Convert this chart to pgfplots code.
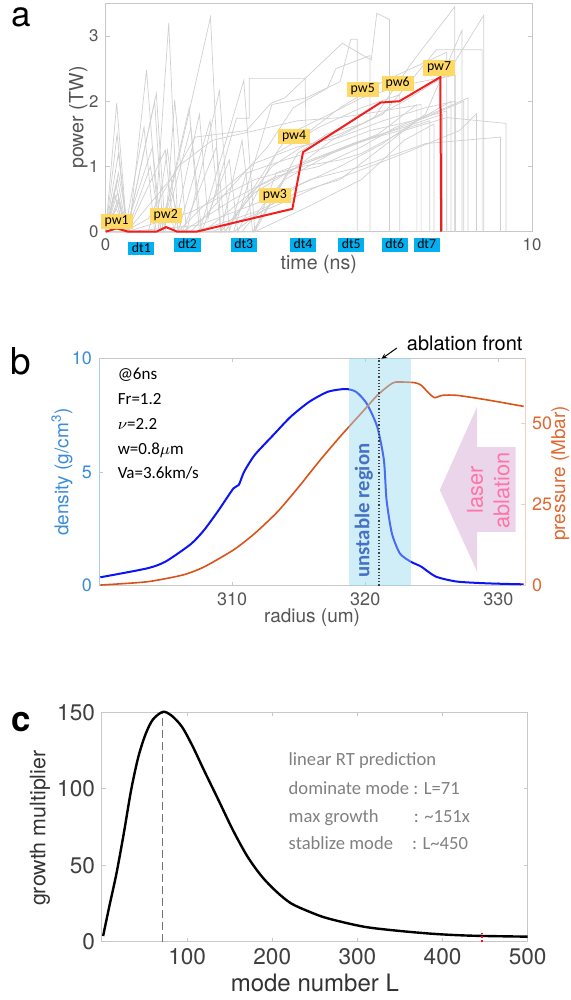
\documentclass[border=0pt]{standalone}
\usepackage{pgfplots}
\pgfplotsset{compat=1.18}
\usepackage{fontspec}
\setmainfont{TeX Gyre Heros}
\newfontfamily\calib{Carlito}
\usetikzlibrary{arrows.meta}

\definecolor{axgray}{RGB}{200,200,200}
\definecolor{tickgray}{RGB}{85,85,85}
\definecolor{spag}{RGB}{208,208,208}
\definecolor{redline}{RGB}{242,30,30}
\definecolor{pwyellow}{RGB}{255,217,102}
\definecolor{dtcyan}{RGB}{0,176,240}
\definecolor{dblue}{RGB}{58,140,215}
\definecolor{lblue}{RGB}{170,205,235}
\definecolor{dorange}{RGB}{224,104,50}
\definecolor{lorange}{RGB}{245,205,185}
\definecolor{rhoblue}{RGB}{10,20,245}
\definecolor{presorange}{RGB}{217,83,25}
\definecolor{bandc}{RGB}{151,217,239}
\definecolor{ublue}{RGB}{68,114,196}
\definecolor{pinkarrow}{RGB}{235,213,234}
\definecolor{pinktext}{RGB}{255,117,168}
\definecolor{annogray}{RGB}{128,128,128}

\pgfplotsset{
  every axis/.append style={scale only axis, anchor=south west, clip=false,
    /pgf/number format/assume math mode=true,
    tick align=inside, major tick length=2pt,
    axis line style={draw=axgray, line width=0.5pt},
    tick style={draw=axgray, line width=0.4pt}},
  spg/.style={spag, line width=0.35pt, forget plot, mark=none},
}
\tikzset{
  pw/.style={fill=pwyellow, inner xsep=2pt, inner ysep=0.9pt, text height=4.4pt, text depth=1.4pt, font=\calib\fontsize{6.9}{7}\selectfont},
  dt/.style={fill=dtcyan, inner xsep=1.8pt, inner ysep=0.9pt, text height=4.6pt, text depth=0.4pt, font=\calib\fontsize{6.9}{7}\selectfont},
}

\begin{document}
\begin{tikzpicture}
\useasboundingbox (0,0) rectangle (285.5pt,500pt);

% ---------------- panel a ----------------
\node at (10.5pt,491.25pt) {\fontsize{17.5}{20}\selectfont a};
\begin{axis}[at={(52.8pt,384.15pt)}, width=213.2pt, height=114.15pt,
  xmin=0, xmax=10, ymin=0, ymax=3.5, xtick={0,10}, ytick={0,1,2,3},
  xtick pos=bottom, ytick pos=both,
  tick label style={text=tickgray, font=\fontsize{8.4}{10}\selectfont},
  xlabel={time (ns)}, ylabel={power (TW)},
  label style={text=tickgray, font=\fontsize{9.8}{11}\selectfont},
  xlabel style={at={(axis description cs:0.5,-0.1415)}, anchor=center},
  ylabel style={at={(axis description cs:-0.064,0.5)}, anchor=center},
]
\addplot[spg] coordinates {(0,0) (0.26,1.97) (0.5,0) (1.0,0) (1.2,0.5) (1.48,3.2) (1.7,0) (2.3,0.4) (3.5,1.05) (4.5,1.3) (5.5,1.45) (6.5,1.7) (7.5,1.9) (8.2,2.0) (8.2,0)};
\addplot[spg] coordinates {(0,0) (0.3,0.9) (0.55,0) (0.96,2.48) (1.25,0) (1.6,0.8) (2.46,3.29) (2.7,0) (3.5,0.6) (4.5,1.0) (5.5,1.25) (6.5,1.5) (7.5,1.75) (8.4,2.0) (8.4,0)};
\addplot[spg] coordinates {(0,0) (0.25,0.7) (0.5,0) (1.19,2.12) (1.4,0) (1.62,2.02) (1.9,0) (2.67,2.16) (2.9,0) (3.3,0.9) (4.2,1.1) (5.2,1.3) (6.2,1.55) (7.2,1.7) (8.0,1.85) (8.0,0)};
\addplot[spg] coordinates {(0,0) (0.2,0.6) (0.45,0) (1.1,1.3) (1.3,0) (1.96,1.9) (2.2,0) (3.24,2.32) (3.5,0) (4.0,0.9) (5.0,1.15) (6.0,1.4) (7.0,1.6) (7.9,1.8) (7.9,0)};
\addplot[spg] coordinates {(0,0) (0.3,0.5) (0.5,0) (1.4,1.25) (1.6,0) (2.2,1.8) (2.4,0.2) (3.07,1.74) (3.37,1.74) (3.37,2.35) (4.68,2.35) (4.7,1.5) (5.5,1.9) (6.5,2.3) (7.5,2.6) (8.0,2.75) (8.0,0)};
\addplot[spg] coordinates {(0,0) (0.28,0.8) (0.5,0) (1.6,0.87) (2.1,1.45) (3.3,1.55) (3.88,1.97) (4.2,2.05) (5.55,2.89) (6.23,2.63) (6.36,3.35) (6.66,3.25) (6.66,0)};
\addplot[spg] coordinates {(0,0) (0.3,0.45) (0.5,0) (2.0,0.3) (3.5,0.8) (4.6,1.0) (5.5,1.1) (6.0,1.2) (7.0,1.55) (8.0,1.75) (9.39,1.66) (9.39,0)};
\addplot[spg] coordinates {(0,0) (0.25,0.35) (0.5,0) (2.2,0.1) (3.8,0.5) (4.8,0.8) (6.0,1.0) (7.5,1.35) (9.26,1.45) (9.26,0)};
\addplot[spg] coordinates {(0,0) (2.5,0) (4.0,0.4) (5.0,0.7) (6.0,0.95) (7.0,1.2) (8.3,1.55) (8.7,1.81) (8.7,0)};
\addplot[spg] coordinates {(0,0) (3.0,0) (4.5,0.7) (5.5,1.0) (6.5,1.35) (7.5,1.8) (8.36,3.09) (8.36,0)};
\addplot[spg] coordinates {(0,0) (3.2,0) (4.3,0.9) (5.3,1.4) (6.3,1.75) (7.17,2.58) (8.19,3.45) (8.19,0)};
\addplot[spg] coordinates {(0,0) (2.8,0) (3.9,1.0) (4.6,1.3) (5.5,1.5) (6.5,1.8) (7.76,2.79) (8.83,2.79) (8.83,0)};
\addplot[spg] coordinates {(0,0) (3.5,0) (4.5,1.2) (5.2,1.5) (6.0,1.65) (7.0,2.0) (8.0,2.4) (8.87,3.32) (8.87,0)};
\addplot[spg] coordinates {(0,0) (2.0,0) (3.8,1.3) (4.4,1.9) (5.2,2.2) (5.4,2.5) (6.2,2.7) (6.2,0)};
\addplot[spg] coordinates {(0,0) (3.0,0) (3.9,1.95) (4.7,2.05) (5.5,2.3) (5.75,2.95) (5.9,2.95) (5.9,0)};
\addplot[spg] coordinates {(0,0) (1.8,0) (3.0,0.5) (4.0,0.85) (5.0,1.0) (6.0,1.3) (6.8,1.6) (7.8,1.85) (8.5,2.05) (8.5,0)};
\addplot[spg] coordinates {(0,0) (2.1,0) (3.5,0.3) (4.5,0.6) (5.5,0.8) (6.5,1.3) (7.3,1.7) (8.1,2.0) (8.1,0)};
\addplot[spg] coordinates {(0,0) (3.5,0) (4.8,0.4) (6.0,0.8) (7.0,1.4) (7.7,1.65) (7.7,0)};
\addplot[spg] coordinates {(0,0) (0.28,0.6) (0.45,0) (1.0,0.2) (1.7,1.0) (2.5,1.4) (3.5,1.55) (4.5,1.7) (5.5,1.75) (6.5,1.85) (7.4,1.95) (7.4,0)};
\addplot[spg] coordinates {(0,0) (2.3,0) (3.6,0.7) (4.7,1.05) (5.8,1.35) (6.9,1.55) (7.6,1.7) (7.6,0)};
\addplot[spg] coordinates {(0,0) (0.22,0.55) (0.45,0) (0.9,1.6) (1.15,0) (1.45,1.25) (1.7,0) (2.45,1.7) (2.7,0) (3.2,1.4) (3.45,0) (4.2,0.8) (5.3,1.2) (6.4,1.5) (7.3,1.95) (7.3,0)};
\addplot[spg] coordinates {(0,0) (0.3,1.2) (0.5,0) (1.15,2.0) (1.35,0) (2.0,1.6) (2.25,0) (2.9,1.1) (3.1,0) (4.0,1.2) (5.0,1.6) (6.0,1.9) (6.9,2.1) (6.9,0)};
\addplot[spg] coordinates {(0,0) (0.27,1.5) (0.5,0) (1.05,1.0) (1.3,0) (1.55,0.6) (1.8,0) (2.6,1.3) (2.8,0) (4.3,1.5) (5.1,1.75) (6.0,2.05) (7.0,2.25) (8.2,2.4) (8.2,0)};
% optimised pulse
\addplot[redline, line width=1pt, mark=none] coordinates {(0,0) (0.26,0.05) (0.53,0) (1.19,0) (1.42,0.07) (1.68,0) (2.13,0) (4.38,0.35) (4.63,1.22) (6.45,1.98) (6.89,2.0) (7.85,2.37) (7.87,0)};
\node[pw] at (axis cs:0.26,0.16) {pw1};
\node[pw] at (axis cs:1.41,0.25) {pw2};
\node[pw] at (axis cs:3.97,0.56) {pw3};
\node[pw] at (axis cs:4.42,1.46) {pw4};
\node[pw] at (axis cs:6.03,2.18) {pw5};
\node[pw] at (axis cs:6.85,2.27) {pw6};
\node[pw] at (axis cs:7.82,2.51) {pw7};
\node[dt] at (axis cs:0.84,-0.26) {dt1};
\node[dt] at (axis cs:1.92,-0.2) {dt2};
\node[dt] at (axis cs:3.24,-0.2) {dt3};
\node[dt] at (axis cs:4.63,-0.2) {dt4};
\node[dt] at (axis cs:5.76,-0.2) {dt5};
\node[dt] at (axis cs:6.78,-0.2) {dt6};
\node[dt] at (axis cs:7.53,-0.2) {dt7};
\end{axis}

% ---------------- panel b ----------------
\node at (10.5pt,319.5pt) {\fontsize{18.5}{20}\selectfont b};
\begin{axis}[at={(49.5pt,207.15pt)}, width=213pt, height=113.7pt,
  xmin=300, xmax=332, ymin=0, ymax=10, xtick={310,320,330}, ytick={0,5,10},
  xtick pos=both, ytick pos=left, separate axis lines,
  y axis line style={draw=lblue}, ytick style={draw=lblue},
  xticklabel style={text=tickgray}, yticklabel style={text=dblue},
  tick label style={font=\fontsize{9}{10}\selectfont},
  xlabel={radius (um)}, ylabel={density (g/cm\textsuperscript{3})},
  label style={font=\fontsize{9.5}{11}\selectfont},
  xlabel style={text=tickgray, at={(axis description cs:0.5,-0.142)}, anchor=center},
  ylabel style={text=dblue, at={(axis description cs:-0.087,0.5)}, anchor=center},
]
\fill[pinkarrow] (axis cs:325.6,4.21) -- (axis cs:328.4,7.87) -- (axis cs:328.4,6.09) -- (axis cs:331.3,6.09)
  -- (axis cs:331.3,2.37) -- (axis cs:328.4,2.37) -- (axis cs:328.4,0.62) -- cycle;
\node[rotate=90, align=center, text=pinktext, font=\fontsize{10.9}{13.3}\selectfont] at (axis cs:329.25,4.2) {laser\\ablation};
\addplot[rhoblue, line width=1pt, mark=none, smooth, tension=0.4] coordinates {
  (300.1,0.37) (303.6,0.76) (305,1.06) (306.9,1.83) (307.9,2.45) (309.0,3.33) (310.1,4.28) (310.5,4.43)
  (310.9,5.01) (311.7,5.75) (313.1,6.63) (314.4,7.43) (315.8,8.09) (317.2,8.53) (318.5,8.65) (319.3,8.53)
  (320.1,8.02) (320.9,6.99) (321.4,5.53) (321.6,3.77) (322.0,2.30) (322.6,1.42) (323.4,1.06) (324.2,0.84)
  (325.3,0.40) (326.9,0.18) (329.3,0.10) (331.9,0.06)};
\node[anchor=base west, font=\calib\fontsize{8.5}{10}\selectfont] at (axis cs:300.88,9.05) {@6ns};
\node[anchor=base west, font=\calib\fontsize{8.5}{10}\selectfont] at (axis cs:300.88,7.95) {Fr=1.2};
\node[anchor=base west, font=\calib\fontsize{8.5}{10}\selectfont] at (axis cs:300.88,6.85) {$\nu$=2.2};
\node[anchor=base west, font=\calib\fontsize{8.5}{10}\selectfont] at (axis cs:300.88,5.78) {w=0.8$\mu$m};
\node[anchor=base west, font=\calib\fontsize{8.5}{10}\selectfont] at (axis cs:300.88,4.70) {Va=3.6km/s};
\node[anchor=base west, font=\fontsize{10}{12}\selectfont] at (axis cs:322.6,10.33) {ablation front};
\draw[-{Stealth[length=3pt,width=2.5pt]}, line width=0.5pt] (axis cs:322.37,10.45) -- (axis cs:321.19,9.96);
\end{axis}
\begin{axis}[at={(49.5pt,207.15pt)}, width=213pt, height=113.7pt,
  xmin=300, xmax=332, ymin=0, ymax=70, ytick={0,25,50},
  axis x line=none, axis y line*=right,
  y axis line style={draw=lorange}, ytick style={draw=lorange},
  yticklabel style={text=dorange, font=\fontsize{9}{10}\selectfont},
  ylabel={pressure (Mbar)},
  ylabel style={text=dorange, font=\fontsize{9.5}{11}\selectfont, at={(axis description cs:1.083,0.494)}, anchor=center},
]
\addplot[presorange, line width=0.8pt, mark=none, smooth, tension=0.4] coordinates {
  (300.1,0.2) (303.6,1.2) (306.3,3.3) (307.9,5.8) (310.1,11.0) (311.7,16.1) (313.4,22.7) (315.0,30.4)
  (316.6,38.6) (318.2,46.3) (319.9,54.0) (320.9,58.6) (321.8,61.7) (322.3,62.7) (323.7,62.5) (324.2,61.7)
  (324.7,59.6) (325.2,57.9) (325.8,58.6) (326.9,58.6) (329.3,57.1) (331.9,55.2)};
\fill[bandc, fill opacity=0.45] (axis cs:318.8,0) rectangle (axis cs:323.4,70);
\draw[densely dotted, black!75, line width=0.6pt] (axis cs:321.04,0) -- (axis cs:321.04,70);
\node[rotate=90, text=ublue, font=\calib\bfseries\fontsize{10.4}{12}\selectfont] at (axis cs:319.9,23.1) {unstable region};
\end{axis}

% ---------------- panel c ----------------
\node at (10.5pt,139pt) {\fontsize{17.5}{20}\selectfont\bfseries c};
\begin{axis}[at={(51pt,29.15pt)}, width=212.85pt, height=114.6pt,
  xmin=0, xmax=500, ymin=0, ymax=150, xtick={100,200,...,500}, ytick={0,50,100,150},
  tick pos=both,
  tick label style={text=black!75, font=\fontsize{11.3}{13}\selectfont},
  xlabel={mode number L}, ylabel={growth multiplier},
  xlabel style={text=black!80, font=\fontsize{12}{14}\selectfont, at={(axis description cs:0.5,-0.179)}, anchor=center},
  ylabel style={text=black!80, font=\fontsize{10.7}{12}\selectfont, at={(axis description cs:-0.1456,0.495)}, anchor=center},
]
\draw[black!55, line width=0.8pt, dash pattern=on 4pt off 2pt] (axis cs:71,0) -- (axis cs:71,150);
\addplot[black, line width=1.2pt, smooth, mark=none] coordinates {
  (1.3,3.7) (8.5,22.9) (17,44.7) (25.6,70.9) (34.2,99.2) (42.7,121) (51.3,136) (59.8,145.4) (71.4,150.4)
  (81.2,148.2) (94,140.6) (106.8,127.5) (119.7,112.3) (136.8,92.7) (153.8,73) (171,55.6) (188,42.5)
  (205,32.7) (222,25.1) (243.6,19.6) (265,15.3) (307.7,9.8) (350.4,7.0) (393,5.0) (436,3.9) (500,3.3)};
\draw[densely dotted, red!80!magenta, line width=0.8pt] (axis cs:446,0) -- (axis cs:446,6);
\node[anchor=base west, text=annogray, font=\calib\fontsize{9.3}{11}\selectfont] at (axis cs:211,115.0) {linear RT prediction};
\node[anchor=base west, text=annogray, font=\calib\fontsize{9.3}{11}\selectfont] at (axis cs:211,96.5) {dominate mode : L=71};
\node[anchor=base west, text=annogray, font=\calib\fontsize{9.3}{11}\selectfont] at (axis cs:211,78.3) {max growth};
\node[anchor=base west, text=annogray, font=\calib\fontsize{9.3}{11}\selectfont] at (axis cs:357.9,78.3) {: \textasciitilde151x};
\node[anchor=base west, text=annogray, font=\calib\fontsize{9.3}{11}\selectfont] at (axis cs:211,60.5) {stablize mode};
\node[anchor=base west, text=annogray, font=\calib\fontsize{9.3}{11}\selectfont] at (axis cs:355.9,60.5) {: L\textasciitilde450};
\end{axis}
\end{tikzpicture}
\end{document}
